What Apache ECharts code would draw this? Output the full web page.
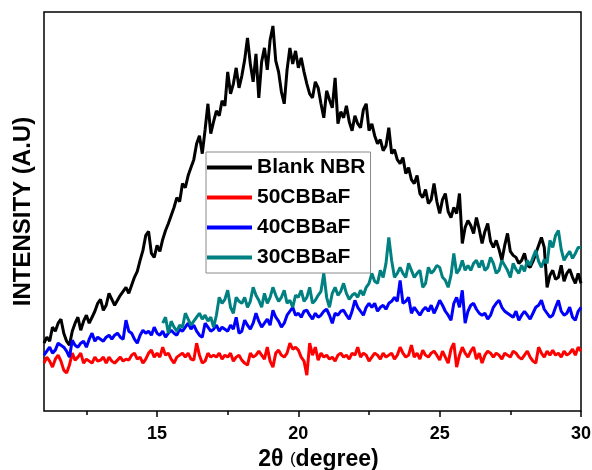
<!DOCTYPE html>
<html>
<head>
<meta charset="utf-8">
<script src="https://cdn.jsdelivr.net/npm/echarts@6/dist/echarts.min.js"></script>
<style>
  html, body { margin: 0; padding: 0; background: #fff; }
  #chart { width: 592px; height: 470px; }
</style>
</head>
<body>
<div id="chart"></div>
<script>
// XRD scan: intensity (arbitrary units) sampled every 0.1 degree of 2-theta
const THETA_START = 11.0;
const THETA_STEP = 0.1;

const blankNBR = [
  68,74,70,84,80,88,92,78,70,66,
  80,88,94,81,90,96,88,94,100,108,
  112,101,106,118,112,106,111,116,120,124,
  118,126,134,140,151,161,176,180,158,154,
  166,160,172,181,188,196,204,214,210,228,
  224,236,244,252,268,276,258,282,308,278,
  290,301,296,311,306,340,318,328,344,324,
  336,352,374,348,330,358,314,350,364,342,
  372,386,351,340,320,308,342,364,348,361,
  344,354,340,328,318,314,330,324,308,294,
  321,312,304,334,288,300,294,306,290,281,
  296,288,284,302,308,281,288,276,268,272,
  261,266,284,258,262,252,248,254,238,244,
  232,228,236,218,214,222,208,212,228,210,
  198,212,218,200,194,204,198,218,168,184,
  191,186,178,194,182,168,180,188,170,164,
  171,162,151,166,178,160,156,154,148,151,
  158,146,144,150,158,166,174,164,124,136,
  141,132,134,146,130,138,142,134,128,138,
  128
];

const cbbaf50 = [
  48,54,50,44,52,56,50,41,38,46,
  58,51,54,58,48,52,50,48,54,50,
  51,54,48,54,50,48,51,54,50,52,
  51,56,58,52,54,48,52,58,61,54,
  58,54,64,56,58,52,48,54,56,58,
  54,58,52,51,68,56,48,50,58,54,
  56,54,58,52,56,54,58,50,54,56,
  51,48,46,58,54,56,60,56,52,64,
  50,44,58,61,56,54,58,68,62,64,
  61,54,50,36,68,56,64,51,58,54,
  56,52,54,50,56,58,54,56,52,58,
  56,64,54,58,56,50,54,58,56,52,
  58,54,56,58,52,56,64,58,54,56,
  66,54,58,52,61,56,54,58,60,56,
  51,60,54,48,62,68,44,56,64,58,
  54,60,64,52,58,48,56,60,58,54,
  58,56,52,58,56,54,60,58,54,52,
  56,60,54,50,48,64,58,54,60,56,
  61,56,58,54,60,56,58,62,56,64,
  60
];

const cbbaf40 = [
  56,60,64,58,61,68,66,64,60,54,
  71,66,64,68,70,64,72,78,70,74,
  72,70,74,76,72,76,78,74,72,91,
  80,78,72,68,76,81,78,80,76,84,
  78,76,80,74,78,81,78,76,82,80,
  84,88,82,86,80,76,74,88,84,80,
  82,86,80,84,82,80,86,82,94,78,
  80,91,86,82,88,98,90,84,88,92,
  86,101,94,90,84,88,96,100,104,96,
  98,94,100,101,96,92,98,94,96,100,
  102,96,88,98,96,100,101,96,92,100,
  111,104,100,96,104,108,104,108,100,104,
  106,102,108,110,114,110,131,108,110,114,
  98,104,100,96,101,104,100,106,98,104,
  111,106,100,96,91,108,114,104,121,88,
  100,106,108,102,98,96,98,92,96,104,
  108,111,104,100,98,96,94,100,91,96,
  100,96,92,98,104,106,111,102,98,94,
  96,104,111,100,96,98,104,94,91,100,
  104
];

// the 30CBBaF scan begins at 15.2 degrees
const CBBAF30_START = 15.2;
const cbbaf30 = [
  88,94,78,90,84,80,86,84,
  98,92,86,90,94,98,92,96,90,94,
  84,96,114,108,112,121,104,98,114,110,
  108,114,104,110,124,116,111,104,118,108,
  114,124,116,110,114,121,108,111,104,116,
  114,121,110,114,124,108,111,116,120,138,
  114,104,118,124,116,120,128,118,112,116,
  118,114,121,116,124,128,138,130,128,141,
  134,148,174,151,134,138,144,138,134,148,
  141,134,138,141,124,128,144,138,141,146,
  144,134,131,124,136,158,138,142,151,141,
  146,141,148,151,144,151,141,144,154,148,
  138,141,151,146,141,134,148,142,138,146,
  140,151,146,154,161,150,144,152,148,171,
  164,176,181,162,151,156,160,153,158,164,
  164
];

const seriesNames = ['Blank NBR', '50CBBaF', '40CBBaF', '30CBBaF'];
const seriesColors = ['#000000', '#ff0000', '#0000ff', '#008080'];
const xMajorTicks = [15, 20, 25, 30];
const xMinorTicks = [12.5, 17.5, 22.5, 27.5];

function toPairs(start, values) {
  return values.map((v, i) => [+(start + i * THETA_STEP).toFixed(2), v]);
}

const FONT = 'Liberation Sans, Arial, sans-serif';
const seriesData = [
  toPairs(THETA_START, blankNBR),
  toPairs(THETA_START, cbbaf50),
  toPairs(THETA_START, cbbaf40),
  toPairs(CBBAF30_START, cbbaf30)
];

const chart = echarts.init(document.getElementById('chart'), null, { renderer: 'canvas' });

chart.setOption({
  animation: false,
  backgroundColor: '#ffffff',
  grid: {
    left: 44, right: 11, top: 12, bottom: 59,
    outerBoundsMode: 'none',
    show: true, borderColor: '#000', borderWidth: 1.5, backgroundColor: 'transparent'
  },
  legend: {
    orient: 'vertical',
    left: 206, top: 152,
    backgroundColor: '#ffffff',
    borderColor: '#8a8a8a', borderWidth: 1,
    padding: [5, 5, 5, 1],
    itemGap: 9,
    itemWidth: 45, itemHeight: 4,
    icon: 'rect',
    textStyle: { fontFamily: FONT, fontSize: 21, fontWeight: 'bold', color: '#000' },
    data: seriesNames
  },
  xAxis: [
    {
      type: 'value', min: 11, max: 30,
      axisLine: { show: false },
      axisTick: { show: true, customValues: xMajorTicks, length: 6, lineStyle: { color: '#000', width: 1.5 } },
      axisLabel: { customValues: xMajorTicks, margin: 14, fontFamily: FONT, fontSize: 18, fontWeight: 'bold', color: '#000' },
      splitLine: { show: false },
      name: '{a|2θ }{b|(}{a|degree)}',
      nameLocation: 'middle',
      nameGap: 37,
      nameTextStyle: {
        padding: [0, 0, 0, 12],
        rich: {
          a: { fontFamily: FONT, fontSize: 23, fontWeight: 'bold', color: '#000' },
          b: { fontFamily: FONT, fontSize: 17, fontWeight: 'normal', color: '#000' }
        }
      }
    },
    {
      type: 'value', min: 11, max: 30, position: 'bottom',
      axisLine: { show: false },
      axisTick: { show: true, customValues: xMinorTicks, length: 4, lineStyle: { color: '#000', width: 1.5 } },
      axisLabel: { show: false },
      splitLine: { show: false }
    }
  ],
  yAxis: {
    type: 'value', min: 0, max: 400,
    axisLine: { show: false },
    axisTick: { show: false },
    axisLabel: { show: false },
    splitLine: { show: false },
    name: 'INTENSITY (A.U)',
    nameLocation: 'middle',
    nameGap: 9,
    nameTextStyle: { fontFamily: FONT, fontSize: 24, fontWeight: 'bold', color: '#000' }
  },
  series: seriesNames.map((name, k) => ({
    name: name,
    type: 'line',
    xAxisIndex: 0,
    data: seriesData[k],
    showSymbol: false,
    symbol: 'none',
    color: seriesColors[k],
    lineStyle: { color: seriesColors[k], width: 3 },
    z: 2 + k
  }))
});
</script>
</body>
</html>
